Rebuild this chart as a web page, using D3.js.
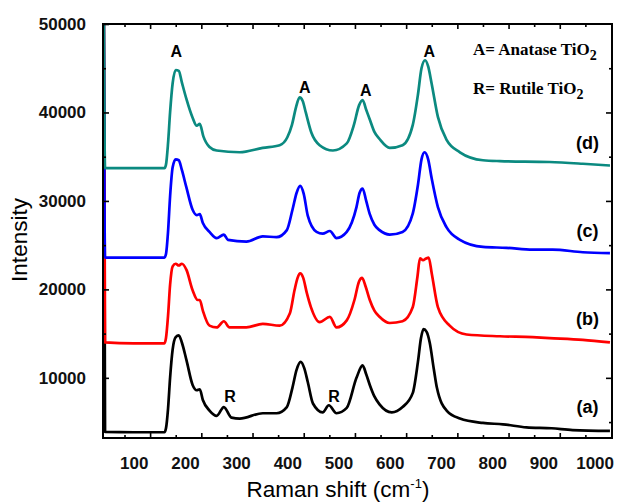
<!DOCTYPE html>
<html>
<head>
<meta charset="utf-8">
<script src="https://cdn.jsdelivr.net/npm/d3@7"></script>
<style>
  body { margin: 0; background: #fff; }
  svg text { font-family: "Liberation Sans", Arial, sans-serif; }
</style>
</head>
<body>
<div id="container"></div>
<script>
// CONSTANTS AND GLOBALS
const width = 619,
    height = 502,
    margin = {top: 24, bottom: 64, left: 103, right: 7};

// DATA  [Raman shift, intensity]
const seriesA = [[41,60000],[44,3900],[100,3850],[160,3850],[163,4300],[167,6500],[171,10000],[176,13200],[182,14600],[188,14800],[194,14000],[203,12000],[215,9200],[223,8600],[229,8700],[235,7500],[248,6300],[262,5700],[276,6700],[291,5500],[307,5400],[352,6000],[379,6000],[399,6700],[410,8900],[418,10900],[426,11800],[433,11100],[440,9500],[450,7100],[469,6100],[481,6900],[496,6000],[516,6600],[535,10000],[547,11400],[554,10400],[561,9200],[570,7900],[580,7000],[604,6100],[625,6700],[645,8300],[655,11800],[661,14500],[666,15500],[672,15200],[678,14000],[686,11000],[692,8900],[711,6300],[737,5400],[782,4900],[821,4750],[867,4400],[916,4300],[957,4100],[1030,4000]];
const seriesB = [[41,60000],[44,14000],[100,13900],[160,13900],[163,14500],[167,17000],[171,20500],[176,22600],[182,22900],[188,22700],[194,22900],[203,22200],[215,19900],[225,18800],[229,18800],[235,17600],[248,15900],[262,15700],[276,16400],[287,15700],[320,15700],[352,16100],[385,15900],[405,17300],[414,19900],[420,21300],[425,21800],[431,21300],[438,19600],[446,18000],[463,16300],[483,16900],[496,15700],[516,16500],[531,18800],[540,20900],[546,21300],[553,20300],[561,18800],[570,17600],[580,16900],[600,16200],[625,16400],[645,18000],[654,21400],[659,23500],[665,23300],[671,23500],[676,23600],[682,21800],[694,18000],[717,15900],[750,14900],[815,14700],[879,14600],[912,14500],[977,14300],[1030,14000]];
const seriesC = [[41,60000],[44,23600],[100,23600],[160,23600],[163,24000],[167,26500],[171,30500],[176,33800],[182,34700],[188,34600],[194,33500],[203,31500],[215,29000],[223,28400],[229,28500],[235,27500],[248,26500],[262,25800],[276,26200],[284,25600],[320,25400],[352,26000],[379,25900],[399,26700],[410,29000],[418,30900],[425,31700],[432,30800],[440,28300],[457,26500],[469,26300],[483,26600],[496,25800],[516,26500],[535,29300],[541,30900],[547,31400],[554,30000],[561,28500],[570,27300],[580,26700],[600,26200],[625,26500],[645,28600],[655,31800],[662,34700],[668,35500],[675,34700],[682,32500],[694,29300],[711,27000],[737,25600],[782,24800],[828,24700],[879,24500],[918,24500],[977,24200],[1030,24100]];
const seriesD = [[41,60000],[44,33700],[100,33700],[160,33700],[163,34100],[167,36500],[171,40000],[176,43300],[182,44800],[188,44700],[194,43400],[203,41500],[215,39400],[223,38500],[229,38700],[236,37300],[248,36100],[262,35700],[307,35500],[352,36000],[385,36300],[400,37200],[409,38600],[417,40600],[424,41700],[430,41300],[436,40000],[447,37700],[463,36300],[489,35700],[516,36500],[530,38600],[540,40800],[547,41400],[554,40300],[561,39200],[570,37800],[580,37000],[600,36000],[625,36300],[645,38600],[655,42000],[662,45000],[669,45900],[675,45200],[682,43200],[694,39500],[711,36900],[737,35500],[782,34600],[815,34500],[912,34400],[977,34200],[1030,34000]];

const seriesColors = ["#000000", "#ff0000", "#0000ff", "#0b8a80"];
const seriesNames = ["(a)", "(b)", "(c)", "(d)"];
const seriesLabelY = [6000, 15950, 25900, 35850];

const xTickLabels = [100, 200, 300, 400, 500, 600, 700, 800, 900, 1000];
const xMajorTicks = [132, 232, 332, 432, 532, 632, 732, 832, 932];
const xMinorTicks = [82, 182, 282, 382, 482, 582, 682, 782, 882, 982];
const yTickLabels = [10000, 20000, 30000, 40000, 50000];
const yMinorTicks = [5000, 15000, 25000, 35000, 45000];

// peak annotations [shift, intensity, text]
const peakLabels = [[183, 46270, "A"], [434, 42200, "A"], [553, 41860, "A"], [677, 46270, "A"], [288, 7270, "R"], [491, 7270, "R"]];
const legendRows = [["A= Anatase TiO", 46500], ["R= Rutile TiO", 42090]];

// SCALES
const xScale = d3.scaleLinear()
  .domain([40, 1034])
  .range([margin.left, width - margin.right]);

const yScale = d3.scaleLinear()
  .domain([3200, 50000])
  .range([height - margin.bottom, margin.top]);

const svg = d3.select("#container")
  .append("svg")
  .attr("width", width)
  .attr("height", height);

svg.append("clipPath")
  .attr("id", "plotClip")
  .append("rect")
  .attr("x", margin.left)
  .attr("y", margin.top)
  .attr("width", width - margin.left - margin.right)
  .attr("height", height - margin.top - margin.bottom);

// LINES
const lineGen = d3.line()
  .x(d => xScale(d[0]))
  .y(d => yScale(d[1]))
  .curve(d3.curveMonotoneX);

svg.append("g")
  .attr("clip-path", "url(#plotClip)")
  .selectAll("path.line")
  .data([seriesA, seriesB, seriesC, seriesD])
  .join("path")
  .attr("class", "line")
  .attr("fill", "none")
  .attr("stroke", (d, i) => seriesColors[i])
  .attr("stroke-width", 2.7)
  .attr("stroke-linejoin", "round")
  .attr("d", d => lineGen(d));

// AXES
const bottomY = height - margin.bottom;
const rightX = width - margin.right;

function tickGroup(axis, transform) {
  const g = svg.append("g")
    .attr("transform", transform)
    .call(axis);
  g.select(".domain").remove();
  g.selectAll(".tick line").attr("stroke", "#000").attr("stroke-width", 1.6);
  return g;
}

tickGroup(d3.axisBottom(xScale).tickValues(xMajorTicks).tickSize(-5).tickFormat(""), `translate(0,${bottomY})`);
tickGroup(d3.axisBottom(xScale).tickValues(xMinorTicks).tickSize(-3).tickFormat(""), `translate(0,${bottomY})`);
tickGroup(d3.axisTop(xScale).tickValues(xMajorTicks).tickSize(-5).tickFormat(""), `translate(0,${margin.top})`);
tickGroup(d3.axisTop(xScale).tickValues(xMinorTicks).tickSize(-3).tickFormat(""), `translate(0,${margin.top})`);

const xLabels = tickGroup(d3.axisBottom(xScale).tickValues(xTickLabels).tickSize(0).tickPadding(19).tickFormat(d3.format("d")), `translate(0,${bottomY})`);
xLabels.selectAll("text")
  .style("font-family", "'Liberation Sans', Arial, sans-serif")
  .style("font-size", "17px")
  .style("font-weight", "bold")
  .attr("fill", "#111");

const yLabels = tickGroup(d3.axisLeft(yScale).tickValues(yTickLabels).tickSize(-6).tickPadding(17).tickFormat(d3.format("d")), `translate(${margin.left},0)`);
yLabels.selectAll("text")
  .style("font-family", "'Liberation Sans', Arial, sans-serif")
  .style("font-size", "17px")
  .style("font-weight", "bold")
  .attr("fill", "#111");
tickGroup(d3.axisLeft(yScale).tickValues(yMinorTicks).tickSize(-3).tickFormat(""), `translate(${margin.left},0)`);
tickGroup(d3.axisRight(yScale).tickValues(yTickLabels.slice(0, 4)).tickSize(-6).tickFormat(""), `translate(${rightX},0)`);
tickGroup(d3.axisRight(yScale).tickValues(yMinorTicks).tickSize(-3).tickFormat(""), `translate(${rightX},0)`);

// frame
svg.append("rect")
  .attr("x", margin.left)
  .attr("y", margin.top)
  .attr("width", rightX - margin.left)
  .attr("height", bottomY - margin.top)
  .attr("fill", "none")
  .attr("stroke", "#000")
  .attr("stroke-width", 2);

// ANNOTATIONS
svg.selectAll("text.peak")
  .data(peakLabels)
  .join("text")
  .attr("class", "peak")
  .attr("x", d => xScale(d[0]))
  .attr("y", d => yScale(d[1]))
  .attr("text-anchor", "middle")
  .style("font-size", "16px")
  .style("font-weight", "bold")
  .text(d => d[2]);

svg.selectAll("text.series")
  .data(seriesNames)
  .join("text")
  .attr("class", "series")
  .attr("x", xScale(986))
  .attr("y", (d, i) => yScale(seriesLabelY[i]))
  .attr("text-anchor", "middle")
  .style("font-size", "18px")
  .style("font-weight", "bold")
  .text(d => d);

legendRows.forEach(r => {
  const t = svg.append("text")
    .attr("x", 473)
    .attr("y", yScale(r[1]))
    .style("font-family", "'Liberation Serif', 'Times New Roman', serif")
    .style("font-size", "17px")
    .style("font-weight", "bold");
  t.append("tspan").text(r[0]);
  t.append("tspan").attr("dy", 5).style("font-size", "14px").text("2");
});

// axis titles
svg.append("text")
  .attr("transform", `translate(27,240) rotate(-90)`)
  .attr("text-anchor", "middle")
  .style("font-size", "22.5px")
  .text("Intensity");

const xTitle = svg.append("text")
  .attr("x", 338)
  .attr("y", 497)
  .attr("text-anchor", "middle")
  .style("font-size", "22.5px");
xTitle.append("tspan").text("Raman shift (cm");
xTitle.append("tspan").attr("dy", -9).style("font-size", "13px").text("-1");
xTitle.append("tspan").attr("dy", 9).text(")");
</script>
</body>
</html>
